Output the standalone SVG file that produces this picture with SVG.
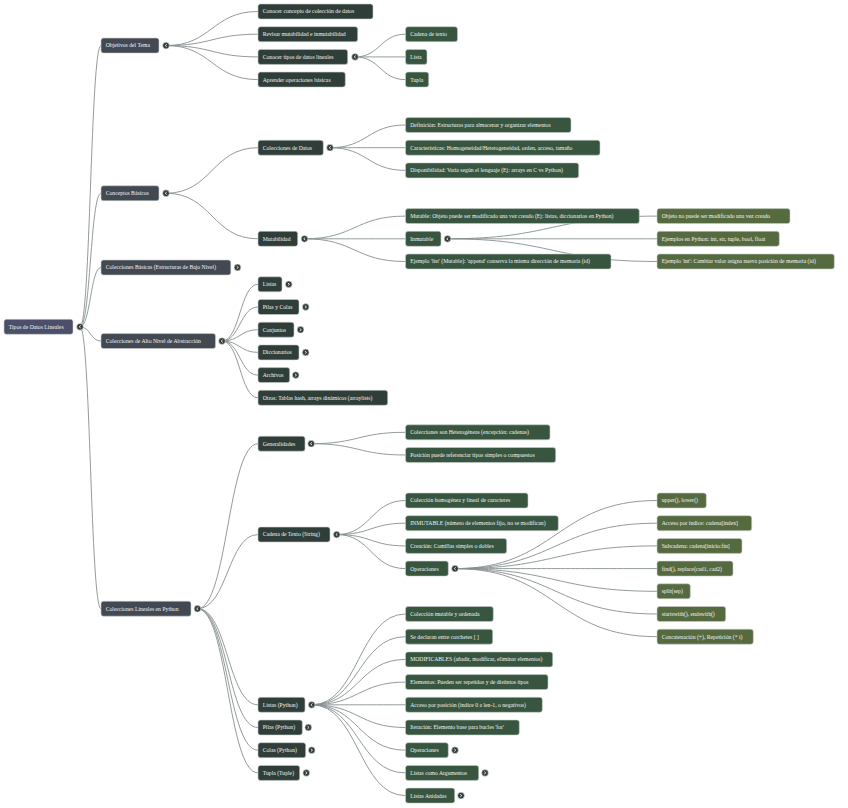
<svg xmlns="http://www.w3.org/2000/svg" xmlns:xlink="http://www.w3.org/1999/xlink" width="848" height="808" viewBox="0 0 848 808">
<style>
g rect{stroke:#c9cfcb;stroke-width:.6}
.n0{fill:#4c4f69}.n1{fill:#434952}.n2{fill:#2f3e39}.n3{fill:#37553f}.n4{fill:#566a40}
text{font-family:"Liberation Serif","Times New Roman",serif;font-size:5.7px;fill:#f2f2f2}
#links path{fill:none;stroke:#878e90;stroke-width:.9}
</style>
<defs>
<g id="tc"><circle r="3.4" fill="#333d3a" stroke="#e8ecea" stroke-width=".6"/><polyline points="0.8,-1.3 -0.8,0 0.8,1.3" fill="none" stroke="#fff" stroke-width=".8"/></g>
<g id="to"><circle r="3.4" fill="#333d3a" stroke="#e8ecea" stroke-width=".6"/><polyline points="-0.8,-1.3 0.8,0 -0.8,1.3" fill="none" stroke="#fff" stroke-width=".8"/></g>
</defs>
<rect x="0" y="0" width="848" height="808" fill="#fff"/>
<g id="links">
<path d="M80 326.8C90.5 326.8 90.5 45.55 101 45.55"/>
<path d="M80 326.8C90.5 326.8 90.5 193.25 101 193.25"/>
<path d="M80 326.8C90.5 326.8 90.5 267.5 101 267.5"/>
<path d="M80 326.8C90.5 326.8 90.5 341.05 101 341.05"/>
<path d="M80 326.8C90.5 326.8 90.5 608.7 101 608.7"/>
<path d="M166 45.55C212 45.55 212 11.5 258 11.5"/>
<path d="M166 45.55C212 45.55 212 34.2 258 34.2"/>
<path d="M166 45.55C212 45.55 212 56.9 258 56.9"/>
<path d="M166 45.55C212 45.55 212 79.6 258 79.6"/>
<path d="M355 56.9C380.25 56.9 380.25 34.2 405.5 34.2"/>
<path d="M355 56.9C380.25 56.9 380.25 56.9 405.5 56.9"/>
<path d="M355 56.9C380.25 56.9 380.25 79.6 405.5 79.6"/>
<path d="M166 193.25C212 193.25 212 147.7 258 147.7"/>
<path d="M166 193.25C212 193.25 212 238.8 258 238.8"/>
<path d="M330 147.7C367.75 147.7 367.75 125 405.5 125"/>
<path d="M330 147.7C367.75 147.7 367.75 147.7 405.5 147.7"/>
<path d="M330 147.7C367.75 147.7 367.75 170.4 405.5 170.4"/>
<path d="M304.5 238.8C355 238.8 355 216.1 405.5 216.1"/>
<path d="M304.5 238.8C355 238.8 355 238.8 405.5 238.8"/>
<path d="M304.5 238.8C355 238.8 355 261.5 405.5 261.5"/>
<path d="M447.5 238.8C552.25 238.8 552.25 216.1 657 216.1"/>
<path d="M447.5 238.8C552.25 238.8 552.25 238.8 657 238.8"/>
<path d="M447.5 238.8C552.25 238.8 552.25 261.5 657 261.5"/>
<path d="M222 341.05C240 341.05 240 284.3 258 284.3"/>
<path d="M222 341.05C240 341.05 240 307 258 307"/>
<path d="M222 341.05C240 341.05 240 329.7 258 329.7"/>
<path d="M222 341.05C240 341.05 240 352.4 258 352.4"/>
<path d="M222 341.05C240 341.05 240 375.1 258 375.1"/>
<path d="M222 341.05C240 341.05 240 397.8 258 397.8"/>
<path d="M197.5 608.7C227.75 608.7 227.75 443.7 258 443.7"/>
<path d="M197.5 608.7C227.75 608.7 227.75 534.55 258 534.55"/>
<path d="M197.5 608.7C227.75 608.7 227.75 704.8 258 704.8"/>
<path d="M197.5 608.7C227.75 608.7 227.75 727.5 258 727.5"/>
<path d="M197.5 608.7C227.75 608.7 227.75 750.2 258 750.2"/>
<path d="M197.5 608.7C227.75 608.7 227.75 772.9 258 772.9"/>
<path d="M311.2 443.7C358.35 443.7 358.35 432.3 405.5 432.3"/>
<path d="M311.2 443.7C358.35 443.7 358.35 455 405.5 455"/>
<path d="M336.7 534.55C371.1 534.55 371.1 500.5 405.5 500.5"/>
<path d="M336.7 534.55C371.1 534.55 371.1 523.2 405.5 523.2"/>
<path d="M336.7 534.55C371.1 534.55 371.1 545.9 405.5 545.9"/>
<path d="M336.7 534.55C371.1 534.55 371.1 568.6 405.5 568.6"/>
<path d="M455 568.6C556 568.6 556 500.5 657 500.5"/>
<path d="M455 568.6C556 568.6 556 523.2 657 523.2"/>
<path d="M455 568.6C556 568.6 556 545.9 657 545.9"/>
<path d="M455 568.6C556 568.6 556 568.6 657 568.6"/>
<path d="M455 568.6C556 568.6 556 591.3 657 591.3"/>
<path d="M455 568.6C556 568.6 556 614 657 614"/>
<path d="M455 568.6C556 568.6 556 636.7 657 636.7"/>
<path d="M311.7 704.8C358.6 704.8 358.6 614 405.5 614"/>
<path d="M311.7 704.8C358.6 704.8 358.6 636.7 405.5 636.7"/>
<path d="M311.7 704.8C358.6 704.8 358.6 659.4 405.5 659.4"/>
<path d="M311.7 704.8C358.6 704.8 358.6 682.1 405.5 682.1"/>
<path d="M311.7 704.8C358.6 704.8 358.6 704.8 405.5 704.8"/>
<path d="M311.7 704.8C358.6 704.8 358.6 727.5 405.5 727.5"/>
<path d="M311.7 704.8C358.6 704.8 358.6 750.2 405.5 750.2"/>
<path d="M311.7 704.8C358.6 704.8 358.6 772.9 405.5 772.9"/>
<path d="M311.7 704.8C358.6 704.8 358.6 795.6 405.5 795.6"/>
</g>

<g id="root"><rect class="n0" x="4" y="319.3" width="69" height="15" rx="2.5"/><text x="8.7" y="328.7">Tipos de Datos Lineales</text><use href="#tc" x="80" y="326.8"/></g>

<g id="objetivos"><rect class="n1" x="101" y="38.05" width="58" height="15" rx="2.5"/><text x="105.7" y="47.45">Objetivos del Tema</text><use href="#tc" x="166" y="45.55"/></g>
<g id="obj1"><rect class="n2" x="258" y="4" width="115" height="15" rx="2.5"/><text x="262.7" y="13.4">Conocer concepto de colección de datos</text></g>
<g id="obj2"><rect class="n2" x="258" y="26.7" width="99.7" height="15" rx="2.5"/><text x="262.7" y="36.1">Revisar mutabilidad e inmutabilidad</text></g>
<g id="obj3"><rect class="n2" x="258" y="49.4" width="89.7" height="15" rx="2.5"/><text x="262.7" y="58.8">Conocer tipos de datos lineales</text><use href="#tc" x="355" y="56.9"/></g>
<g id="obj3a"><rect class="n3" x="405.5" y="26.7" width="52" height="15" rx="2.5"/><text x="410.2" y="36.1">Cadena de texto</text></g>
<g id="obj3b"><rect class="n3" x="405.5" y="49.4" width="21.5" height="15" rx="2.5"/><text x="410.2" y="58.8">Lista</text></g>
<g id="obj3c"><rect class="n3" x="405.5" y="72.1" width="23.2" height="15" rx="2.5"/><text x="410.2" y="81.5">Tupla</text></g>
<g id="obj4"><rect class="n2" x="258" y="72.1" width="87.3" height="15" rx="2.5"/><text x="262.7" y="81.5">Aprender operaciones básicas</text></g>

<g id="conceptos"><rect class="n1" x="101" y="185.75" width="58" height="15" rx="2.5"/><text x="105.7" y="195.15">Conceptos Básicos</text><use href="#tc" x="166" y="193.25"/></g>
<g id="coldatos"><rect class="n2" x="258" y="140.2" width="65.3" height="15" rx="2.5"/><text x="262.7" y="149.6">Colecciones de Datos</text><use href="#tc" x="330" y="147.7"/></g>
<g id="cd1"><rect class="n3" x="405.5" y="117.5" width="165.5" height="15" rx="2.5"/><text x="410.2" y="126.9">Definición: Estructuras para almacenar y organizar elementos</text></g>
<g id="cd2"><rect class="n3" x="405.5" y="140.2" width="194.5" height="15" rx="2.5"/><text x="410.2" y="149.6">Características: Homogeneidad/Heterogeneidad, orden, acceso, tamaño</text></g>
<g id="cd3"><rect class="n3" x="405.5" y="162.9" width="173.2" height="15" rx="2.5"/><text x="410.2" y="172.3">Disponibilidad: Varía según el lenguaje (Ej: arrays en C vs Python)</text></g>
<g id="mutabilidad"><rect class="n2" x="258" y="231.3" width="39.7" height="15" rx="2.5"/><text x="262.7" y="240.7">Mutabilidad</text><use href="#tc" x="304.5" y="238.8"/></g>
<g id="mu1"><rect class="n3" x="405.5" y="208.6" width="233.8" height="15" rx="2.5"/><text x="410.2" y="218">Mutable: Objeto puede ser modificado una vez creado (Ej: listas, diccionarios en Python)</text></g>
<g id="inmutable"><rect class="n3" x="405.5" y="231.3" width="35.5" height="15" rx="2.5"/><text x="410.2" y="240.7">Inmutable</text><use href="#tc" x="447.5" y="238.8"/></g>
<g id="mu3"><rect class="n3" x="405.5" y="254" width="205.5" height="15" rx="2.5"/><text x="410.2" y="263.4">Ejemplo 'list' (Mutable): 'append' conserva la misma dirección de memoria (id)</text></g>
<g id="in1"><rect class="n4" x="657" y="208.6" width="133" height="15" rx="2.5"/><text x="661.7" y="218">Objeto no puede ser modificado una vez creado</text></g>
<g id="in2"><rect class="n4" x="657" y="231.3" width="122.3" height="15" rx="2.5"/><text x="661.7" y="240.7">Ejemplos en Python: int, str, tuple, bool, float</text></g>
<g id="in3"><rect class="n4" x="657" y="254" width="177.3" height="15" rx="2.5"/><text x="661.7" y="263.4">Ejemplo 'int': Cambiar valor asigna nueva posición de memoria (id)</text></g>

<g id="colbasicas"><rect class="n1" x="101" y="260" width="129.8" height="15" rx="2.5"/><text x="105.7" y="269.4">Colecciones Básicas (Estructuras de Bajo Nivel)</text><use href="#to" x="237.5" y="267.5"/></g>

<g id="colalto"><rect class="n1" x="101" y="333.55" width="114.5" height="15" rx="2.5"/><text x="105.7" y="342.95">Colecciones de Alto Nivel de Abstracción</text><use href="#tc" x="222" y="341.05"/></g>
<g id="ca1"><rect class="n2" x="258" y="276.8" width="24" height="15" rx="2.5"/><text x="262.7" y="286.2">Listas</text><use href="#to" x="288.7" y="284.3"/></g>
<g id="ca2"><rect class="n2" x="258" y="299.5" width="41" height="15" rx="2.5"/><text x="262.7" y="308.9">Pilas y Colas</text><use href="#to" x="305.7" y="307"/></g>
<g id="ca3"><rect class="n2" x="258" y="322.2" width="36" height="15" rx="2.5"/><text x="262.7" y="331.6">Conjuntos</text><use href="#to" x="300.5" y="329.7"/></g>
<g id="ca4"><rect class="n2" x="258" y="344.9" width="41" height="15" rx="2.5"/><text x="262.7" y="354.3">Diccionarios</text><use href="#to" x="305.7" y="352.4"/></g>
<g id="ca5"><rect class="n2" x="258" y="367.6" width="31.7" height="15" rx="2.5"/><text x="262.7" y="377">Archivos</text><use href="#to" x="295.7" y="375.1"/></g>
<g id="ca6"><rect class="n2" x="258" y="390.3" width="129.7" height="15" rx="2.5"/><text x="262.7" y="399.7">Otros: Tablas hash, arrays dinámicos (arraylists)</text></g>

<g id="collineales"><rect class="n1" x="101" y="601.2" width="90" height="15" rx="2.5"/><text x="105.7" y="610.6">Colecciones Lineales en Python</text><use href="#tc" x="197.5" y="608.7"/></g>
<g id="generalidades"><rect class="n2" x="258" y="436.2" width="47" height="15" rx="2.5"/><text x="262.7" y="445.6">Generalidades</text><use href="#tc" x="311.2" y="443.7"/></g>
<g id="ge1"><rect class="n3" x="405.5" y="424.8" width="144.5" height="15" rx="2.5"/><text x="410.2" y="434.2">Colecciones son Heterogéneas (excepción: cadenas)</text></g>
<g id="ge2"><rect class="n3" x="405.5" y="447.5" width="150.2" height="15" rx="2.5"/><text x="410.2" y="456.9">Posición puede referenciar tipos simples o compuestos</text></g>
<g id="cadena"><rect class="n2" x="258" y="527.05" width="72" height="15" rx="2.5"/><text x="262.7" y="536.45">Cadena de Texto (String)</text><use href="#tc" x="336.7" y="534.55"/></g>
<g id="cs1"><rect class="n3" x="405.5" y="493" width="122.5" height="15" rx="2.5"/><text x="410.2" y="502.4">Colección homogénea y lineal de caracteres</text></g>
<g id="cs2"><rect class="n3" x="405.5" y="515.7" width="152.8" height="15" rx="2.5"/><text x="410.2" y="525.1">INMUTABLE (número de elementos fijo, no se modifican)</text></g>
<g id="cs3"><rect class="n3" x="405.5" y="538.4" width="101.2" height="15" rx="2.5"/><text x="410.2" y="547.8">Creación: Comillas simples o dobles</text></g>
<g id="csops"><rect class="n3" x="405.5" y="561.1" width="42.8" height="15" rx="2.5"/><text x="410.2" y="570.5">Operaciones</text><use href="#tc" x="455" y="568.6"/></g>
<g id="op1"><rect class="n4" x="657" y="493" width="49.3" height="15" rx="2.5"/><text x="661.7" y="502.4">upper(), lower()</text></g>
<g id="op2"><rect class="n4" x="657" y="515.7" width="94.7" height="15" rx="2.5"/><text x="661.7" y="525.1">Acceso por índice: cadena[index]</text></g>
<g id="op3"><rect class="n4" x="657" y="538.4" width="85" height="15" rx="2.5"/><text x="661.7" y="547.8">Subcadena: cadena[inicio:fin]</text></g>
<g id="op4"><rect class="n4" x="657" y="561.1" width="76" height="15" rx="2.5"/><text x="661.7" y="570.5">find(), replace(cad1, cad2)</text></g>
<g id="op5"><rect class="n4" x="657" y="583.8" width="33.3" height="15" rx="2.5"/><text x="661.7" y="593.2">split(sep)</text></g>
<g id="op6"><rect class="n4" x="657" y="606.5" width="68.7" height="15" rx="2.5"/><text x="661.7" y="615.9">startswith(), endswith()</text></g>
<g id="op7"><rect class="n4" x="657" y="629.2" width="96.3" height="15" rx="2.5"/><text x="661.7" y="638.6">Concatenación (+), Repetición (* i)</text></g>

<g id="listaspy"><rect class="n2" x="258" y="697.3" width="47" height="15" rx="2.5"/><text x="262.7" y="706.7">Listas (Python)</text><use href="#tc" x="311.7" y="704.8"/></g>
<g id="lp1"><rect class="n3" x="405.5" y="606.5" width="87.8" height="15" rx="2.5"/><text x="410.2" y="615.9">Colección mutable y ordenada</text></g>
<g id="lp2"><rect class="n3" x="405.5" y="629.2" width="87.2" height="15" rx="2.5"/><text x="410.2" y="638.6">Se declaran entre corchetes [ ]</text></g>
<g id="lp3"><rect class="n3" x="405.5" y="651.9" width="147.2" height="15" rx="2.5"/><text x="410.2" y="661.3">MODIFICABLES (añadir, modificar, eliminar elementos)</text></g>
<g id="lp4"><rect class="n3" x="405.5" y="674.6" width="142.5" height="15" rx="2.5"/><text x="410.2" y="684">Elementos: Pueden ser repetidos y de distintos tipos</text></g>
<g id="lp5"><rect class="n3" x="405.5" y="697.3" width="136.8" height="15" rx="2.5"/><text x="410.2" y="706.7">Acceso por posición (índice 0 a len-1, o negativos)</text></g>
<g id="lp6"><rect class="n3" x="405.5" y="720" width="113.8" height="15" rx="2.5"/><text x="410.2" y="729.4">Iteración: Elemento base para bucles 'for'</text></g>
<g id="lp7"><rect class="n3" x="405.5" y="742.7" width="42.8" height="15" rx="2.5"/><text x="410.2" y="752.1">Operaciones</text><use href="#to" x="455" y="750.2"/></g>
<g id="lp8"><rect class="n3" x="405.5" y="765.4" width="73.2" height="15" rx="2.5"/><text x="410.2" y="774.8">Listas como Argumentos</text><use href="#to" x="485" y="772.9"/></g>
<g id="lp9"><rect class="n3" x="405.5" y="788.1" width="49.2" height="15" rx="2.5"/><text x="410.2" y="797.5">Listas Anidadas</text><use href="#to" x="461" y="795.6"/></g>
<g id="pilaspy"><rect class="n2" x="258" y="720" width="44.3" height="15" rx="2.5"/><text x="262.7" y="729.4">Pilas (Python)</text><use href="#to" x="308.3" y="727.5"/></g>
<g id="colaspy"><rect class="n2" x="258" y="742.7" width="47.7" height="15" rx="2.5"/><text x="262.7" y="752.1">Colas (Python)</text><use href="#to" x="311.7" y="750.2"/></g>
<g id="tuplapy"><rect class="n2" x="258" y="765.4" width="41.7" height="15" rx="2.5"/><text x="262.7" y="774.8">Tupla (Tuple)</text><use href="#to" x="306.3" y="772.9"/></g>
</svg>
